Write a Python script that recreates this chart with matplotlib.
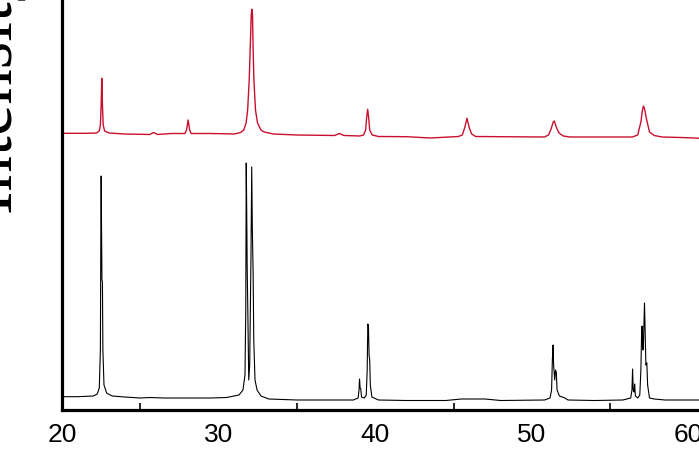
import matplotlib.pyplot as plt
from matplotlib.ticker import MultipleLocator

# 2-theta (deg) and intensity (a.u.)
two_theta_bottom = [20.0, 21.0, 22.0, 22.25, 22.38, 22.45, 22.48, 22.50, 22.52, 22.55, 22.58, 22.61, 22.68,
                    22.85, 23.2, 24.0, 25.0, 25.6, 26.5, 28.0, 29.5, 30.5, 31.3, 31.55, 31.68, 31.73, 31.76,
                    31.79, 31.82, 31.86, 31.92, 31.98, 32.06, 32.11, 32.15, 32.20, 32.24, 32.32, 32.45, 32.7,
                    33.2, 35.0, 37.0, 38.6, 38.9, 38.96, 38.99, 39.03, 39.07, 39.12, 39.3, 39.42, 39.48, 39.52,
                    39.56, 39.6, 39.64, 39.68, 39.78, 40.2, 42.0, 44.5, 45.5, 47.0, 48.0, 50.8, 51.15, 51.25,
                    51.30, 51.34, 51.38, 51.45, 51.50, 51.55, 51.6, 51.75, 52.1, 52.3, 54.0, 55.8, 56.3, 56.38,
                    56.42, 56.46, 56.52, 56.55, 56.60, 56.75, 56.88, 56.95, 57.0, 57.03, 57.08, 57.12, 57.18,
                    57.22, 57.27, 57.33, 57.38, 57.5, 57.8, 58.5, 60.8]
intensity_bottom = [13.3, 13.3, 14, 16, 22, 60, 180, 234, 190, 130, 128, 60, 25,
                    17, 14, 13, 12, 12.5, 12, 12, 12, 12.5, 15, 20, 35, 100, 247,
                    200, 143, 100, 30, 45, 150, 243, 180, 137, 70, 30, 20, 14,
                    11, 10, 10, 10, 12, 20, 31, 22, 21, 13, 12, 15, 40, 86,
                    84, 55, 50, 25, 13, 10, 9.5, 9.5, 11, 11, 9.5, 10, 12, 20,
                    50, 65, 45, 30, 40, 38, 20, 14, 12, 10, 9.5, 10, 12, 20,
                    41, 20, 18, 26, 14, 12, 15, 40, 80, 84, 60, 70, 107,
                    80, 45, 47, 25, 12, 11, 10, 10]

two_theta_top = [20.0, 21.5, 22.2, 22.38, 22.45, 22.5, 22.54, 22.58, 22.63, 22.72, 23.0, 24.0, 25.0, 25.6,
                 25.85, 26.1, 27.0, 27.85, 27.95, 28.05, 28.15, 28.25, 29.5, 31.0, 31.4, 31.6, 31.75, 31.85,
                 31.95, 32.02, 32.08, 32.12, 32.16, 32.2, 32.25, 32.35, 32.48, 32.7, 32.9, 33.5, 35.0, 37.4,
                 37.7, 38.0, 39.0, 39.25, 39.38, 39.45, 39.51, 39.57, 39.64, 39.8, 40.2, 42.0, 43.5, 45.3,
                 45.55, 45.7, 45.85, 46.0, 46.15, 46.4, 48.0, 50.8, 51.05, 51.22, 51.35, 51.42, 51.55, 51.72,
                 52.0, 52.4, 54.0, 56.4, 56.75, 56.95, 57.05, 57.12, 57.2, 57.32, 57.5, 57.8, 58.3, 59.5, 60.8]
intensity_top = [276.7, 276.7, 277, 279, 285, 305, 331.7, 305, 285, 279, 277, 276, 275.7, 275.5,
                 277.5, 275.5, 276.5, 276.5, 280, 290, 280, 276.5, 276.5, 276, 277.5, 280, 287, 300,
                 330, 365, 395, 400.7, 395, 360, 330, 300, 287, 280, 278, 276, 275, 274.5,
                 276.5, 274.5, 274, 275, 280, 293, 300.7, 293, 280, 275, 273.5, 273.3, 272, 273.5,
                 275, 282, 291.7, 282, 276, 273.5, 273.3, 273, 275, 281, 288, 289, 283, 277,
                 274, 273, 273, 273, 275, 288, 300, 304, 300, 290, 278, 274.5, 273, 272.5, 271.7]

x_ticks = [20, 30, 40, 50, 60]

fig = plt.figure(figsize=(6.99, 4.61), dpi=100)
ax = fig.add_axes([62 / 699, 51 / 461, 658 / 699, 440 / 461])

ax.plot(two_theta_bottom, intensity_bottom, color='black', linewidth=0.8)
ax.plot(two_theta_top, intensity_top, color='#c8102e', linewidth=1.0)

ax.set_xlim(20, 62)
ax.set_ylim(0, 440)
ax.set_xticks(x_ticks)
ax.xaxis.set_minor_locator(MultipleLocator(5))
ax.tick_params(axis='x', which='major', length=0, pad=9.5, labelsize=19)
ax.tick_params(axis='x', which='minor', direction='in', length=5, width=1.2)
for lab in ax.get_xticklabels():
    lab.set_family('Liberation Sans')
ax.set_yticks([])
for side in ['left', 'bottom', 'top', 'right']:
    ax.spines[side].set_linewidth(2.3)

# y label is mostly cut off by the left edge in the original
fig.text(12 / 699, (461 - 214) / 461, 'Intensity (a.u.)', rotation=90, rotation_mode='anchor',
         ha='left', va='baseline', family='Liberation Serif', fontsize=51)

fig.savefig('out.png', dpi=100)
